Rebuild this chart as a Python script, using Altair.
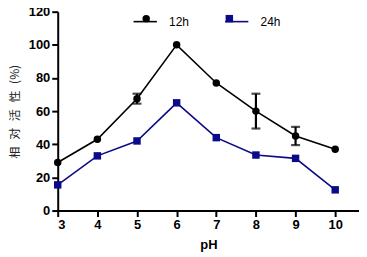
import altair as alt
import pandas as pd

ph = [3, 4, 5, 6, 7, 8, 9, 10]
act_12h = [29, 43, 67.5, 100, 77, 60, 45, 37]
act_24h = [15.5, 33, 42, 65, 44, 33.5, 31.5, 12.5]
err_12h = [0, 0, 3, 0, 0, 10.5, 5.5, 0]
series = ["12h", "24h"]
colors = ["#000000", "#0b0b8a"]
y_ticks = [0, 20, 40, 60, 80, 100, 120]

rows = []
for p, a in zip(ph, act_12h):
    rows.append({"pH": p, "act": a, "series": "12h"})
for p, a in zip(ph, act_24h):
    rows.append({"pH": p, "act": a, "series": "24h"})
df = pd.DataFrame(rows)

err = pd.DataFrame({
    "pH": ph,
    "lo": [a - e for a, e in zip(act_12h, err_12h)],
    "hi": [a + e for a, e in zip(act_12h, err_12h)],
    "e": err_12h,
})
err = err[err["e"] > 0]

FONT = "Liberation Sans"
GAP = "\u2002\u200a"
Y_TITLE = GAP.join(["相", "对", "活", "性", "(%)"])

x_scale = alt.Scale(domain=[3, 10.6], nice=False, zero=False)
x_axis = alt.Axis(values=ph, title="pH", format="d")
y_scale = alt.Scale(domain=[0, 120], nice=False)
y_axis = alt.Axis(values=y_ticks, title=Y_TITLE)
x_enc = alt.X("pH:Q", scale=x_scale, axis=x_axis)
y_enc = alt.Y("act:Q", scale=y_scale, axis=y_axis)

LEG_X = 75
LEG_Y = -3
line_leg = alt.Legend(
    orient="none", legendX=LEG_X, legendY=LEG_Y, direction="horizontal",
    title=None, symbolType="stroke", symbolSize=548, symbolStrokeWidth=1.6,
    labelFont=FONT, labelFontSize=12, labelColor="black",
    labelOffset=11, columnPadding=32,
)
point_leg = alt.Legend(
    orient="none", legendX=LEG_X + 8, legendY=LEG_Y + 4, direction="horizontal",
    title=None, symbolSize=56, symbolStrokeWidth=0, symbolOpacity=1,
    labelFont=FONT, labelFontSize=12, labelExpr="''",
    labelOffset=0, columnPadding=71.6,
)

lines = alt.Chart(df).mark_line(strokeWidth=1.6).encode(
    x=x_enc, y=y_enc,
    stroke=alt.Stroke("series:N", scale=alt.Scale(range=colors), legend=line_leg),
)

errbars = alt.Chart(err).mark_errorbar(
    ticks={"size": 9, "thickness": 2.2}, rule={"strokeWidth": 2.2}, color="black"
).encode(
    x=alt.X("pH:Q", scale=x_scale, axis=x_axis),
    y=alt.Y("lo:Q", scale=y_scale, axis=y_axis),
    y2="hi:Q",
)

points = alt.Chart(df).mark_point(filled=True, size=56, opacity=1).encode(
    x=x_enc, y=y_enc,
    color=alt.Color("series:N", scale=alt.Scale(domain=series, range=colors), legend=point_leg),
    shape=alt.Shape("series:N", scale=alt.Scale(domain=series, range=["circle", "square"]), legend=point_leg),
)

chart = alt.layer(lines, errbars, points).properties(
    width=303, height=200,
    autosize=alt.AutoSizeParams(type="none"),
    padding={"left": 50, "top": 3, "right": 0, "bottom": 46},
).configure_view(stroke=None).configure_axis(
    domainColor="black", domainWidth=2, tickColor="black", tickWidth=2, tickSize=6,
    grid=False, labelFont=FONT, labelFontSize=13, labelFontWeight="bold", labelColor="black",
    labelPadding=2, labelOverlap=False,
).configure_axisX(
    titleFont=FONT, titleFontSize=13, titleFontWeight="bold", titleColor="black", titlePadding=7,
).configure_axisY(
    titleFont="Noto Sans CJK SC", titleFontSize=12, titleFontWeight="normal", titleColor="#222222",
    titlePadding=7,
)

chart.save("out.html", embed_options={"renderer": "svg", "actions": False})
